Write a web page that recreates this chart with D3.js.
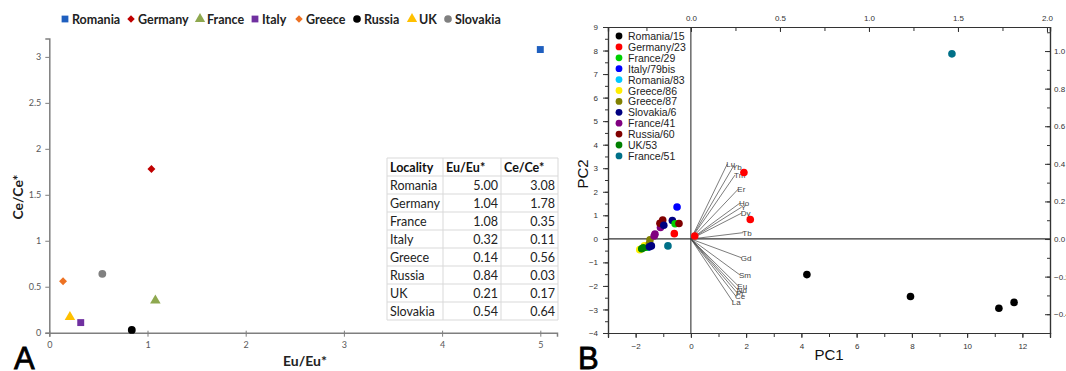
<!DOCTYPE html>
<html>
<head>
<meta charset="utf-8">
<script src="https://cdn.jsdelivr.net/npm/d3@7"></script>
<style>
  body { margin: 0; background: #fff; }
  svg { display: block; }
</style>
</head>
<body>
<svg id="fig" width="1066" height="371"></svg>
<script>
// ---- Panel A data ----
var localities = ["Romania", "Germany", "France", "Italy", "Greece", "Russia", "UK", "Slovakia"];
var euRatio = [5.00, 1.04, 1.08, 0.32, 0.14, 0.84, 0.21, 0.54];
var ceRatio = [3.08, 1.78, 0.35, 0.11, 0.56, 0.03, 0.17, 0.64];
var aXTicks = [0, 1, 2, 3, 4, 5];
var aYTicks = [0, 0.5, 1, 1.5, 2, 2.5, 3];

// ---- Panel B data ----
var samples = ["Romania/15", "Germany/23", "France/29", "Italy/79bis", "Romania/83", "Greece/86",
  "Greece/87", "Slovakia/6", "France/41", "Russia/60", "UK/53", "France/51"];
// scores: sample index, PC1, PC2
var scoreSample = [4, 2, 5, 5, 10, 10, 6, 6, 7, 7, 8, 8, 8, 9, 9, 7, 7, 2, 9, 3, 1, 11, 1, 1, 1, 0, 0, 0, 0, 11];
var scorePC1 = [-1.55, -1.62, -1.85, -1.68, -1.78, -1.72, -1.48, -1.5, -1.5, -1.43, -1.1, -1.3, -1.33, -1.02, -1.12, -0.98, -0.67, -0.57, -0.43, -0.5, -0.6, -0.83, 0.14, 1.92, 2.15, 4.2, 7.95, 11.15, 11.7, 9.45];
var scorePC2 = [-0.35, -0.36, -0.46, -0.3, -0.42, -0.38, -0.04, -0.2, -0.34, -0.3, 0.48, 0.2, 0.12, 0.8, 0.66, 0.58, 0.78, 0.64, 0.65, 1.35, 0.22, -0.3, 0.12, 2.82, 0.82, -1.52, -2.45, -2.95, -2.7, 7.86];
// loadings (top / right axes)
var elements = ["Lu", "Yb", "Tm", "Er", "Ho", "Y", "Dy", "Tb", "Gd", "Sm", "Eu", "Nd", "Pr", "Ce", "La"];
var loadX = [0.204, 0.236, 0.247, 0.266, 0.275, 0.285, 0.285, 0.294, 0.285, 0.275, 0.266, 0.263, 0.258, 0.253, 0.235];
var loadY = [0.399, 0.383, 0.340, 0.266, 0.191, 0.170, 0.138, 0.034, -0.10, -0.191, -0.25, -0.27, -0.285, -0.305, -0.333];
var bXTicks = [-2, 0, 2, 4, 6, 8, 10, 12];
var bYTicks = [-4, -3, -2, -1, 0, 1, 2, 3, 4, 5, 6, 7, 8, 9];
var bTopTicks = [0, 0.5, 1, 1.5, 2];
var bRightTicks = [-0.4, -0.2, 0, 0.2, 0.4, 0.6, 0.8, 1.0];

// styles
var aColors = ["#1f5fbf", "#c00000", "#8ea84f", "#7030a0", "#ed7223", "#000000", "#ffc000", "#808080"];
var aShapes = [d3.symbolSquare, d3.symbolDiamond2, d3.symbolTriangle, d3.symbolSquare, d3.symbolDiamond2, d3.symbolCircle, d3.symbolTriangle, d3.symbolCircle];
var bColors = ["#000000", "#ff0000", "#00d000", "#0000ff", "#00c8ff", "#ffee00", "#808000", "#000080", "#800080", "#800000", "#008000", "#007088"];

var svg = d3.select("#fig");
var fontA = "Lato, 'Open Sans', sans-serif";
var fontB = "'Liberation Sans', Arial, sans-serif";

// ================= Panel A =================
var ax = d3.scaleLinear().domain([0, 5.17]).range([49.3, 557]);
var ay = d3.scaleLinear().domain([0, 3.2]).range([332.7, 38.5]);
var gA = svg.append("g");

gA.append("g")
  .attr("transform", "translate(0," + ay(0) + ")")
  .call(d3.axisBottom(ax).tickValues(aXTicks).tickSize(4).tickFormat(d3.format("d")))
  .call(function(g) {
    g.select(".domain").attr("stroke", "#7f7f7f").attr("stroke-width", 1.5);
    g.selectAll(".tick line").attr("stroke", "#7f7f7f").attr("y1", -2);
    g.selectAll("text").attr("fill", "#595959").attr("font-size", 9).attr("font-family", fontA).attr("dy", "0.9em");
  });

gA.append("g")
  .attr("transform", "translate(" + ax(0) + ",0)")
  .call(d3.axisLeft(ay).tickValues(aYTicks).tickSize(4).tickFormat(function(d) { return "" + d; }))
  .call(function(g) {
    g.select(".domain").attr("stroke", "#7f7f7f").attr("stroke-width", 1.5);
    g.selectAll(".tick line").attr("stroke", "#7f7f7f");
    g.selectAll("text").attr("fill", "#595959").attr("font-size", 9).attr("font-family", fontA).attr("x", -8);
  });

gA.selectAll("path.pt")
  .data(localities)
  .enter().append("path")
  .attr("class", "pt")
  .attr("transform", function(d, i) { return "translate(" + ax(euRatio[i]) + "," + ay(ceRatio[i]) + ")"; })
  .attr("d", function(d, i) { return d3.symbol().type(aShapes[i]).size(aShapes[i] === d3.symbolDiamond2 ? 40 : 48)(); })
  .attr("fill", function(d, i) { return aColors[i]; });

// legend
var legX = [65, 131, 200, 255, 299, 357, 412, 448];
localities.forEach(function(name, i) {
  var row = gA.append("g").attr("transform", "translate(" + legX[i] + ",19)");
  row.append("path")
    .attr("d", d3.symbol().type(aShapes[i]).size(aShapes[i] === d3.symbolDiamond2 ? 36 : 46)())
    .attr("fill", aColors[i]);
  row.append("text")
    .attr("x", 7).attr("y", 4.5)
    .attr("font-family", fontA).attr("font-weight", "bold").attr("font-size", 12.5)
    .attr("fill", "#222")
    .text(name);
});

gA.append("text")
  .attr("transform", "translate(23,197) rotate(-90)")
  .attr("text-anchor", "middle")
  .attr("font-family", fontA).attr("font-weight", "bold").attr("font-size", 14)
  .attr("fill", "#222")
  .text("Ce/Ce*");
gA.append("text")
  .attr("x", 305).attr("y", 366)
  .attr("text-anchor", "middle")
  .attr("font-family", fontA).attr("font-weight", "bold").attr("font-size", 14)
  .attr("fill", "#222")
  .text("Eu/Eu*");

// table
var tblX = [387, 443, 501, 558];
var tblTop = 158, rowH = 18;
var tbl = gA.append("g");
var nRows = localities.length + 1;
for (var r = 0; r <= nRows; r++) {
  tbl.append("line").attr("x1", tblX[0]).attr("x2", tblX[3])
    .attr("y1", tblTop + r * rowH).attr("y2", tblTop + r * rowH)
    .attr("stroke", "#d9d9d9").attr("stroke-width", 1);
}
tblX.forEach(function(x) {
  tbl.append("line").attr("x1", x).attr("x2", x)
    .attr("y1", tblTop).attr("y2", tblTop + nRows * rowH)
    .attr("stroke", "#d9d9d9").attr("stroke-width", 1);
});
["Locality", "Eu/Eu*", "Ce/Ce*"].forEach(function(h, c) {
  tbl.append("text")
    .attr("x", tblX[c] + 3).attr("y", tblTop + rowH / 2 + 4.5)
    .attr("font-family", fontA).attr("font-weight", "bold").attr("font-size", 12.5)
    .attr("fill", "#111").text(h);
});
localities.forEach(function(name, i) {
  var yy = tblTop + (i + 1) * rowH + rowH / 2 + 4.5;
  tbl.append("text").attr("x", tblX[0] + 3).attr("y", yy)
    .attr("font-family", fontA).attr("font-size", 12.5).attr("fill", "#222").text(name);
  tbl.append("text").attr("x", tblX[2] - 3).attr("y", yy).attr("text-anchor", "end")
    .attr("font-family", fontA).attr("font-size", 12.5).attr("fill", "#222").text(euRatio[i].toFixed(2));
  tbl.append("text").attr("x", tblX[3] - 3).attr("y", yy).attr("text-anchor", "end")
    .attr("font-family", fontA).attr("font-size", 12.5).attr("fill", "#222").text(ceRatio[i].toFixed(2));
});

gA.append("text").attr("x", 14).attr("y", 369)
  .attr("font-family", fontB).attr("font-size", 31).attr("stroke", "#000").attr("stroke-width", 0.8)
  .attr("fill", "#000").text("A");

// ================= Panel B =================
var bx = d3.scaleLinear().domain([-3, 13]).range([608, 1050]);
var by = d3.scaleLinear().domain([-4, 9]).range([333, 27]);
var bxTop = d3.scaleLinear().domain([-0.466, 2.017]).range([608, 1050]);
var byRight = d3.scaleLinear().domain([-0.5, 1.128]).range([333, 27]);
var gB = svg.append("g");

function styleAxis(g) {
  g.select(".domain").attr("stroke", "#333").attr("stroke-width", 1.2);
  g.selectAll(".tick line").attr("stroke", "#333");
  g.selectAll("text").attr("fill", "#333").attr("font-size", 8).attr("font-family", fontB);
}
function minorTicks(lo, hi, step) {
  var out = [];
  for (var v = lo; v <= hi + 1e-9; v += step) out.push(+v.toFixed(3));
  return out;
}

// minor ticks
gB.append("g").attr("transform", "translate(0,333)")
  .call(d3.axisBottom(bx).tickValues(minorTicks(-3, 13, 1)).tickSize(4).tickFormat(""))
  .call(styleAxis);
gB.append("g").attr("transform", "translate(608,0)")
  .call(d3.axisLeft(by).tickValues(minorTicks(-4, 9, 0.5)).tickSize(3).tickFormat(""))
  .call(styleAxis);
gB.append("g").attr("transform", "translate(0,27)")
  .call(d3.axisTop(bxTop).tickValues(minorTicks(-0.25, 2, 0.25)).tickSize(-4).tickFormat(""))
  .call(styleAxis);
gB.append("g").attr("transform", "translate(1050,0)")
  .call(d3.axisRight(byRight).tickValues(minorTicks(-0.5, 1.1, 0.1)).tickSize(-3).tickFormat(""))
  .call(styleAxis);

// major ticks with labels
gB.append("g").attr("transform", "translate(0,333)")
  .call(d3.axisBottom(bx).tickValues(bXTicks).tickSize(5).tickPadding(5))
  .call(styleAxis);
gB.append("g").attr("transform", "translate(608,0)")
  .call(d3.axisLeft(by).tickValues(bYTicks).tickSize(5).tickPadding(5))
  .call(styleAxis);
gB.append("g").attr("transform", "translate(0,27)")
  .call(d3.axisTop(bxTop).tickValues(bTopTicks).tickSize(-5).tickPadding(6).tickFormat(d3.format(".1f")))
  .call(styleAxis);
gB.append("g").attr("transform", "translate(1050,0)")
  .call(d3.axisRight(byRight).tickValues(bRightTicks).tickSize(-5).tickPadding(4).tickFormat(d3.format(".1f")))
  .call(styleAxis);

// zero lines
gB.append("line").attr("x1", bx(0)).attr("x2", bx(0)).attr("y1", 27).attr("y2", 333)
  .attr("stroke", "#333").attr("stroke-width", 1.1);
gB.append("line").attr("x1", 608).attr("x2", 1050).attr("y1", by(0)).attr("y2", by(0))
  .attr("stroke", "#333").attr("stroke-width", 1.1);

// loadings
elements.forEach(function(el, i) {
  gB.append("line")
    .attr("x1", bxTop(0)).attr("y1", byRight(0))
    .attr("x2", bxTop(loadX[i])).attr("y2", byRight(loadY[i]))
    .attr("stroke", "#444").attr("stroke-width", 0.7);
  gB.append("text")
    .attr("x", bxTop(loadX[i]) - 1).attr("y", byRight(loadY[i]) + 3)
    .attr("font-family", fontB).attr("font-size", 8).attr("fill", "#444")
    .text(el);
});

// scores
gB.selectAll("circle.score")
  .data(scorePC1)
  .enter().append("circle")
  .attr("class", "score")
  .attr("cx", function(d) { return bx(d); })
  .attr("cy", function(d, i) { return by(scorePC2[i]); })
  .attr("r", 3.8)
  .attr("fill", function(d, i) { return bColors[scoreSample[i]]; });

// legend
samples.forEach(function(s, i) {
  var yy = 36 + i * 10.9;
  gB.append("circle").attr("cx", 619).attr("cy", yy).attr("r", 3.4).attr("fill", bColors[i]);
  gB.append("text").attr("x", 628).attr("y", yy + 4)
    .attr("font-family", fontB).attr("font-size", 10.5).attr("fill", "#222").text(s);
});

gB.append("text")
  .attr("transform", "translate(588,174) rotate(-90)")
  .attr("text-anchor", "middle")
  .attr("font-family", fontB).attr("font-size", 15).attr("fill", "#111")
  .text("PC2");
gB.append("text")
  .attr("x", 829).attr("y", 360)
  .attr("text-anchor", "middle")
  .attr("font-family", fontB).attr("font-size", 15).attr("fill", "#111")
  .text("PC1");

gB.append("text").attr("x", 578).attr("y", 369)
  .attr("font-family", fontB).attr("font-size", 31).attr("stroke", "#000").attr("stroke-width", 0.8)
  .attr("fill", "#000").text("B");
</script>
</body>
</html>
